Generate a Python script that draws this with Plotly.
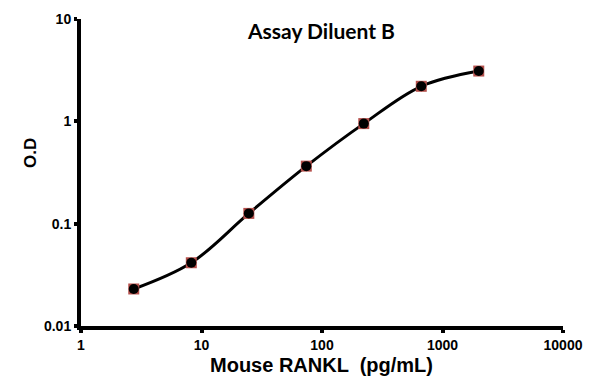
import plotly.graph_objects as go

concentration = [2.74, 8.23, 24.7, 74.1, 222.2, 666.7, 2000]
od = [0.023, 0.0415, 0.126, 0.365, 0.95, 2.2, 3.1]
x_ticks = [1, 10, 100, 1000, 10000]
x_tick_labels = ["1", "10", "100", "1000", "10000"]
y_ticks = [0.01, 0.1, 1, 10]
y_tick_labels = ["0.01", "0.1", "1", "10"]

fig = go.Figure()
fig.add_trace(go.Scatter(
    x=concentration, y=od, mode="lines",
    line=dict(color="black", width=3, shape="spline", smoothing=1),
    hoverinfo="skip", showlegend=False))
fig.add_trace(go.Scatter(
    x=concentration, y=od, mode="markers",
    marker=dict(symbol="square", size=11, color="#b5504c", line=dict(width=0)),
    showlegend=False))
fig.add_trace(go.Scatter(
    x=concentration, y=od, mode="markers",
    marker=dict(symbol="circle", size=10, color="black", line=dict(width=0)),
    showlegend=False))

axis_font = dict(family="Liberation Sans, Arial", size=14, color="black")
fig.update_layout(
    width=595, height=384,
    margin=dict(l=81, r=32, t=19, b=58),
    paper_bgcolor="white", plot_bgcolor="white",
    xaxis=dict(type="log", range=[0, 4], tickvals=x_ticks, ticktext=[f"<b>{t}</b>" for t in x_tick_labels],
               showline=True, linecolor="black", linewidth=4, showgrid=False, zeroline=False,
               ticks="outside", ticklen=3, tickwidth=4, tickcolor="black",
               tickfont=axis_font),
    yaxis=dict(type="log", range=[-2, 1], tickvals=y_ticks, ticktext=[f"<b>{t}</b>" for t in y_tick_labels],
               showline=True, linecolor="black", linewidth=4, showgrid=False, zeroline=False,
               ticks="outside", ticklen=3, tickwidth=4, tickcolor="black",
               tickfont=axis_font),
)
fig.add_annotation(text="<b>Assay Diluent B</b>", xref="paper", yref="paper",
                   x=(321 - 81) / 482, y=(326 - 30) / 307, xanchor="center", yanchor="middle",
                   showarrow=False, font=dict(family="Lato, sans-serif", size=21, color="black"))
fig.add_annotation(text="<b>Mouse RANKL  (pg/mL)</b>", xref="paper", yref="paper",
                   x=(321 - 81) / 482, y=(326 - 365) / 307, xanchor="center", yanchor="middle",
                   showarrow=False, borderpad=0,
                   font=dict(family="Liberation Sans, Arial", size=20, color="black"))
fig.add_annotation(text="<b>O.D</b>", xref="paper", yref="paper", textangle=-90,
                   x=(30 - 81) / 482, y=(326 - 153) / 307, xanchor="center", yanchor="middle",
                   showarrow=False, font=dict(family="Liberation Sans, Arial", size=17, color="black"))
fig.write_html("out.html", config={"displayModeBar": False},
               post_script="document.body.style.margin='0';document.body.style.overflow='hidden';")
